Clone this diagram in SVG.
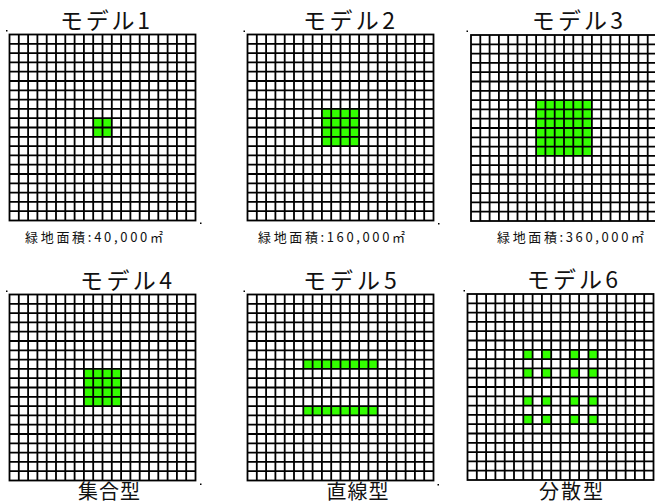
<svg xmlns="http://www.w3.org/2000/svg" xmlns:xlink="http://www.w3.org/1999/xlink" width="655" height="504" viewBox="0 0 655 504">
<style>
.title{font-family:"Noto Sans CJK JP","Noto Sans CJK SC",sans-serif;font-size:23px;fill:#111}
.cap{font-family:"Noto Sans CJK JP","Noto Sans CJK SC",sans-serif;font-size:13px;fill:#111}
.type{font-family:"Noto Sans CJK JP","Noto Sans CJK SC",sans-serif;font-size:20px;fill:#111}
.g{fill:#33ff00}
.dot{fill:#000}
.lines{fill:none;stroke:#000;stroke-width:1.8}
</style>
<defs>
<g id="grid">
<rect class="lines" x="0" y="0" width="186" height="186"/>
<path class="lines" d="M9.3 0V186M18.6 0V186M27.9 0V186M37.2 0V186M46.5 0V186M55.8 0V186M65.1 0V186M74.4 0V186M83.7 0V186M93 0V186M102.3 0V186M111.6 0V186M120.9 0V186M130.2 0V186M139.5 0V186M148.8 0V186M158.1 0V186M167.4 0V186M176.7 0V186M0 9.3H186M0 18.6H186M0 27.9H186M0 37.2H186M0 46.5H186M0 55.8H186M0 65.1H186M0 74.4H186M0 83.7H186M0 93H186M0 102.3H186M0 111.6H186M0 120.9H186M0 130.2H186M0 139.5H186M0 148.8H186M0 158.1H186M0 167.4H186M0 176.7H186"/>
</g>
</defs>
<rect width="655" height="504" fill="#fff"/>

<g id="model1">
<text class="title" x="60" y="28.5" textLength="90" lengthAdjust="spacing">モデル1</text>
<g transform="translate(9.5,34.5)">
<rect class="g" x="83.7" y="83.7" width="18.6" height="18.6"/>
<use href="#grid" xlink:href="#grid"/>
</g>
<rect class="dot" x="6" y="30" width="1.5" height="1.5"/>
<rect class="dot" x="200" y="222.5" width="1.5" height="1.5"/>
<text class="cap" x="25" y="241.5" textLength="138" lengthAdjust="spacing">緑地面積:40,000㎡</text>
</g>

<g id="model2">
<text class="title" x="303" y="28.5" textLength="92" lengthAdjust="spacing">モデル2</text>
<g transform="translate(247.5,34.5)">
<rect class="g" x="74.4" y="74.4" width="37.2" height="37.2"/>
<use href="#grid" xlink:href="#grid"/>
</g>
<rect class="dot" x="243.5" y="30.5" width="1.5" height="1.5"/>
<rect class="dot" x="438" y="223" width="1.5" height="1.5"/>
<text class="cap" x="258" y="241.5" textLength="147" lengthAdjust="spacing">緑地面積:160,000㎡</text>
</g>

<g id="model3">
<text class="title" x="531.7" y="28.5" textLength="91.3" lengthAdjust="spacing">モデル3</text>
<g transform="translate(471,35)">
<rect class="g" x="65.1" y="65.1" width="55.8" height="55.8"/>
<use href="#grid" xlink:href="#grid"/>
</g>
<rect class="dot" x="466.5" y="30.5" width="1.5" height="1.5"/>
<text class="cap" x="497" y="241.5" textLength="147" lengthAdjust="spacing">緑地面積:360,000㎡</text>
</g>

<g id="model4">
<text class="title" x="80" y="288.5" textLength="92" lengthAdjust="spacing">モデル4</text>
<g transform="translate(9.5,294.5)">
<rect class="g" x="74.4" y="74.4" width="37.2" height="37.2"/>
<use href="#grid" xlink:href="#grid"/>
</g>
<rect class="dot" x="6" y="290.5" width="1.5" height="1.5"/>
<rect class="dot" x="200" y="483.5" width="1.5" height="1.5"/>
<text class="type" x="78" y="499" textLength="62" lengthAdjust="spacing">集合型</text>
</g>

<g id="model5">
<text class="title" x="303" y="288.5" textLength="93.7" lengthAdjust="spacing">モデル5</text>
<g transform="translate(247.5,294.5)">
<rect class="g" x="55.8" y="65.1" width="74.4" height="9.3"/>
<rect class="g" x="55.8" y="111.6" width="74.4" height="9.3"/>
<use href="#grid" xlink:href="#grid"/>
</g>
<rect class="dot" x="243.5" y="290.5" width="1.5" height="1.5"/>
<rect class="dot" x="437.5" y="484" width="1.5" height="1.5"/>
<text class="type" x="326.5" y="499" textLength="62" lengthAdjust="spacing">直線型</text>
</g>

<g id="model6">
<text class="title" x="526.7" y="287.5" textLength="91.3" lengthAdjust="spacing">モデル6</text>
<g transform="translate(467.5,294)">
<rect class="g" x="55.8" y="55.8" width="9.3" height="9.3"/>
<rect class="g" x="74.4" y="55.8" width="9.3" height="9.3"/>
<rect class="g" x="102.3" y="55.8" width="9.3" height="9.3"/>
<rect class="g" x="120.9" y="55.8" width="9.3" height="9.3"/>
<rect class="g" x="55.8" y="74.4" width="9.3" height="9.3"/>
<rect class="g" x="74.4" y="74.4" width="9.3" height="9.3"/>
<rect class="g" x="102.3" y="74.4" width="9.3" height="9.3"/>
<rect class="g" x="120.9" y="74.4" width="9.3" height="9.3"/>
<rect class="g" x="55.8" y="102.3" width="9.3" height="9.3"/>
<rect class="g" x="74.4" y="102.3" width="9.3" height="9.3"/>
<rect class="g" x="102.3" y="102.3" width="9.3" height="9.3"/>
<rect class="g" x="120.9" y="102.3" width="9.3" height="9.3"/>
<rect class="g" x="55.8" y="120.9" width="9.3" height="9.3"/>
<rect class="g" x="74.4" y="120.9" width="9.3" height="9.3"/>
<rect class="g" x="102.3" y="120.9" width="9.3" height="9.3"/>
<rect class="g" x="120.9" y="120.9" width="9.3" height="9.3"/>
<use href="#grid" xlink:href="#grid"/>
</g>
<rect class="dot" x="463.5" y="290" width="1.5" height="1.5"/>
<text class="type" x="539" y="499" textLength="64" lengthAdjust="spacing">分散型</text>
</g>
</svg>
